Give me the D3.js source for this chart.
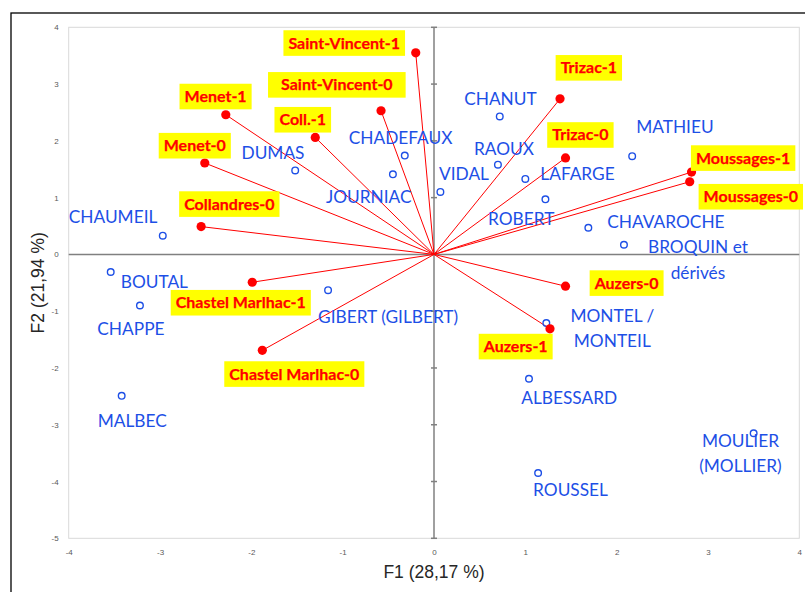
<!DOCTYPE html>
<html>
<head>
<meta charset="utf-8">
<script src="https://cdn.jsdelivr.net/npm/d3@7"></script>
<style>
  html, body { margin: 0; padding: 0; background: #fff; }
  svg { display: block; }
</style>
</head>
<body>
<svg id="chart" width="805" height="592"></svg>
<script>
// ---------------- DATA ----------------
const xTicks = [-4, -3, -2, -1, 0, 1, 2, 3, 4];
const yTicks = [-5, -4, -3, -2, -1, 0, 1, 2, 3, 4];
const xTitle = "F1 (28,17 %)";
const yTitle = "F2 (21,94 %)";

// Observations (open blue circles)
const obsNames = [
  ["CHAUMEIL"], ["BOUTAL"], ["CHAPPE"], ["MALBEC"], ["GIBERT (GILBERT)"],
  ["DUMAS"], ["JOURNIAC"], ["CHADEFAUX"], ["VIDAL"], ["CHANUT"],
  ["RAOUX"], ["LAFARGE"], ["ROBERT"], ["MATHIEU"], ["CHAVAROCHE"],
  ["BROQUIN et", "dérivés"], ["MONTEL /", "MONTEIL"], ["ALBESSARD"], ["ROUSSEL"],
  ["MOULIER", "(MOLLIER)"]
];
const obsF1 = [-2.97, -3.54, -3.22, -3.42, -1.16, -1.52, -0.45, -0.32, 0.07, 0.72,
               0.70, 1.00, 1.22, 2.17, 1.69, 2.08, 1.23, 1.04, 1.14, 3.50];
const obsF2 = [0.33, -0.31, -0.90, -2.49, -0.63, 1.48, 1.41, 1.74, 1.10, 2.43,
               1.58, 1.33, 0.97, 1.73, 0.47, 0.17, -1.21, -2.19, -3.85, -3.15];

// Variables (red filled points with vectors from origin)
const varNames = ["Saint-Vincent-1", "Saint-Vincent-0", "Coll.-1", "Menet-1", "Menet-0",
  "Collandres-0", "Chastel Marlhac-1", "Chastel Marlhac-0", "Trizac-1", "Trizac-0",
  "Moussages-1", "Moussages-0", "Auzers-0", "Auzers-1"];
const varF1 = [-0.20, -0.58, -1.30, -2.28, -2.51, -2.55, -1.99, -1.88, 1.38, 1.44,
               2.82, 2.80, 1.44, 1.27];
const varF2 = [3.55, 2.53, 2.06, 2.46, 1.61, 0.49, -0.49, -1.69, 2.74, 1.70,
               1.45, 1.28, -0.56, -1.31];

// ---------------- LAYOUT (label placement, px offsets from the point) ----------------
// obs: [dx, dy, anchor]  (dx,dy = first baseline position)
const obsLabelPos = [
  [-94, -12.7, "start"], [10, 16.4, "start"], [-42.6, 29.3, "start"], [-24, 31.3, "start"],
  [-10, 33, "start"], [-53.7, -11.3, "start"], [-67, 29, "start"], [-56, -11.7, "start"],
  [-1.3, -12, "start"], [-35.6, -11, "start"], [-24, -9.7, "start"], [15, 1.3, "start"],
  [-57.4, 25.7, "start"], [4, -23, "start"], [19, 0.6, "start"], [74, 8.3, "middle"],
  [66, -1.3, "middle"], [-7.7, 25, "start"], [-5, 22.7, "start"], [-13.2, 13.3, "middle"]
];
// var: box centre offset [dx, dy, extraPad]
const varLabelPos = [
  [-71.5, -9.8, 0], [-44.2, -25.9, 8], [-12.5, -17.7, 0], [-10.2, -18.2, 0], [-10, -17.3, 0],
  [28.2, -22.5, 0], [-11.5, 20.5, 0], [32, 23.7, 0], [28.8, -31, 0], [14.9, -22.9, 0],
  [51.6, -14, 0], [61.1, 15, 0], [61.1, -3.1, 0], [-34.3, 17.8, 0]
];

// ---------------- DRAW ----------------
const svg = d3.select("#chart");
const plot = { left: 68.7, right: 799.3, top: 27.3, bottom: 538.3 };
const x = d3.scaleLinear().domain([-4, 4]).range([plot.left, plot.right]);
const y = d3.scaleLinear().domain([-5, 4]).range([plot.bottom, plot.top]);

const BLUE = "#1d4fe6";
const RED = "#ff0000";
const AXIS = "#808080";

// outer frame
svg.append("rect").attr("x", 11).attr("y", 13).attr("width", 830).attr("height", 620)
  .attr("fill", "none").attr("stroke", "#000").attr("stroke-width", 1.3);

// plot border
svg.append("rect").attr("x", plot.left).attr("y", plot.top)
  .attr("width", plot.right - plot.left).attr("height", plot.bottom - plot.top)
  .attr("fill", "none").attr("stroke", "#d9d9d9").attr("stroke-width", 1);

// tick labels via d3 axes
const gx = svg.append("g").attr("transform", `translate(0,${plot.bottom})`)
  .call(d3.axisBottom(x).tickValues(xTicks).tickSize(0).tickPadding(11).tickFormat(d3.format("d")));
const gy = svg.append("g").attr("transform", `translate(${plot.left},0)`)
  .call(d3.axisLeft(y).tickValues(yTicks).tickSize(0).tickPadding(10).tickFormat(d3.format("d")));
[gx, gy].forEach(g => {
  g.select(".domain").remove();
  g.selectAll("text").attr("font-family", "'Liberation Sans', Arial, sans-serif")
    .attr("font-size", 8).attr("fill", "#595959");
});
gx.selectAll("text").text(d => d < 0 ? "-" + Math.abs(d) : d);
gy.selectAll("text").text(d => d < 0 ? "-" + Math.abs(d) : d);

// zero axes
svg.append("line").attr("x1", plot.left).attr("x2", plot.right)
  .attr("y1", y(0)).attr("y2", y(0)).attr("stroke", AXIS).attr("stroke-width", 1.5);
svg.append("line").attr("x1", x(0)).attr("x2", x(0))
  .attr("y1", plot.top).attr("y2", plot.bottom).attr("stroke", AXIS).attr("stroke-width", 1.5);
svg.append("g").selectAll("line").data(yTicks).join("line")
  .attr("x1", x(0) - 3).attr("x2", x(0) + 3)
  .attr("y1", d => y(d)).attr("y2", d => y(d))
  .attr("stroke", AXIS).attr("stroke-width", 1.5);

// axis titles
svg.append("text").attr("x", (plot.left + plot.right) / 2).attr("y", 578)
  .attr("text-anchor", "middle").attr("font-family", "'Liberation Sans', Arial, sans-serif")
  .attr("font-size", 17.5).attr("fill", "#262626").text(xTitle);
svg.append("text")
  .attr("transform", `translate(44,${(plot.top + plot.bottom) / 2}) rotate(-90)`)
  .attr("text-anchor", "middle").attr("font-family", "'Liberation Sans', Arial, sans-serif")
  .attr("font-size", 17.5).attr("fill", "#262626").text(yTitle);

// vectors
const vars = varNames.map((n, i) => ({ name: n, f1: varF1[i], f2: varF2[i], pos: varLabelPos[i] }));
const obs = obsNames.map((n, i) => ({ name: n, f1: obsF1[i], f2: obsF2[i], pos: obsLabelPos[i] }));

svg.append("g").selectAll("line").data(vars).join("line")
  .attr("x1", x(0)).attr("y1", y(0))
  .attr("x2", d => x(d.f1)).attr("y2", d => y(d.f2))
  .attr("stroke", RED).attr("stroke-width", 1);

// observation labels
const obsLab = svg.append("g").selectAll("text").data(obs).join("text")
  .attr("font-family", "Lato, 'Open Sans', sans-serif").attr("font-size", 17.3)
  .attr("fill", BLUE)
  .attr("text-anchor", d => d.pos[2])
  .attr("x", d => x(d.f1) + d.pos[0]).attr("y", d => y(d.f2) + d.pos[1]);
obsLab.each(function (d) {
  const t = d3.select(this);
  d.name.forEach((line, k) => {
    t.append("tspan").attr("x", x(d.f1) + d.pos[0]).attr("dy", k === 0 ? 0 : 25.5).text(line);
  });
});

// observation points
svg.append("g").selectAll("circle").data(obs).join("circle")
  .attr("cx", d => x(d.f1)).attr("cy", d => y(d.f2)).attr("r", 3.3)
  .attr("fill", "none").attr("stroke", BLUE).attr("stroke-width", 1.4);

// variable points
svg.append("g").selectAll("circle").data(vars).join("circle")
  .attr("cx", d => x(d.f1)).attr("cy", d => y(d.f2)).attr("r", 4.6)
  .attr("fill", RED);

// variable labels (yellow boxes)
const vg = svg.append("g").selectAll("g").data(vars).join("g")
  .attr("transform", d => `translate(${x(d.f1) + d.pos[0]},${y(d.f2) + d.pos[1]})`);
vg.append("rect").attr("fill", "#ffff00");
vg.append("text").attr("text-anchor", "middle").attr("y", 5.5)
  .attr("font-family", "Lato, 'Open Sans', sans-serif").attr("font-weight", "bold")
  .attr("font-size", 16).attr("fill", RED)
  .attr("stroke", RED).attr("stroke-width", 0.25)
  .text(d => d.name);
vg.each(function (d) {
  const g = d3.select(this);
  const w = g.select("text").node().getComputedTextLength() + 10 + 2 * d.pos[2];
  g.select("rect").attr("x", -w / 2).attr("y", -12.8).attr("width", w).attr("height", 25.6);
});
</script>
</body>
</html>
